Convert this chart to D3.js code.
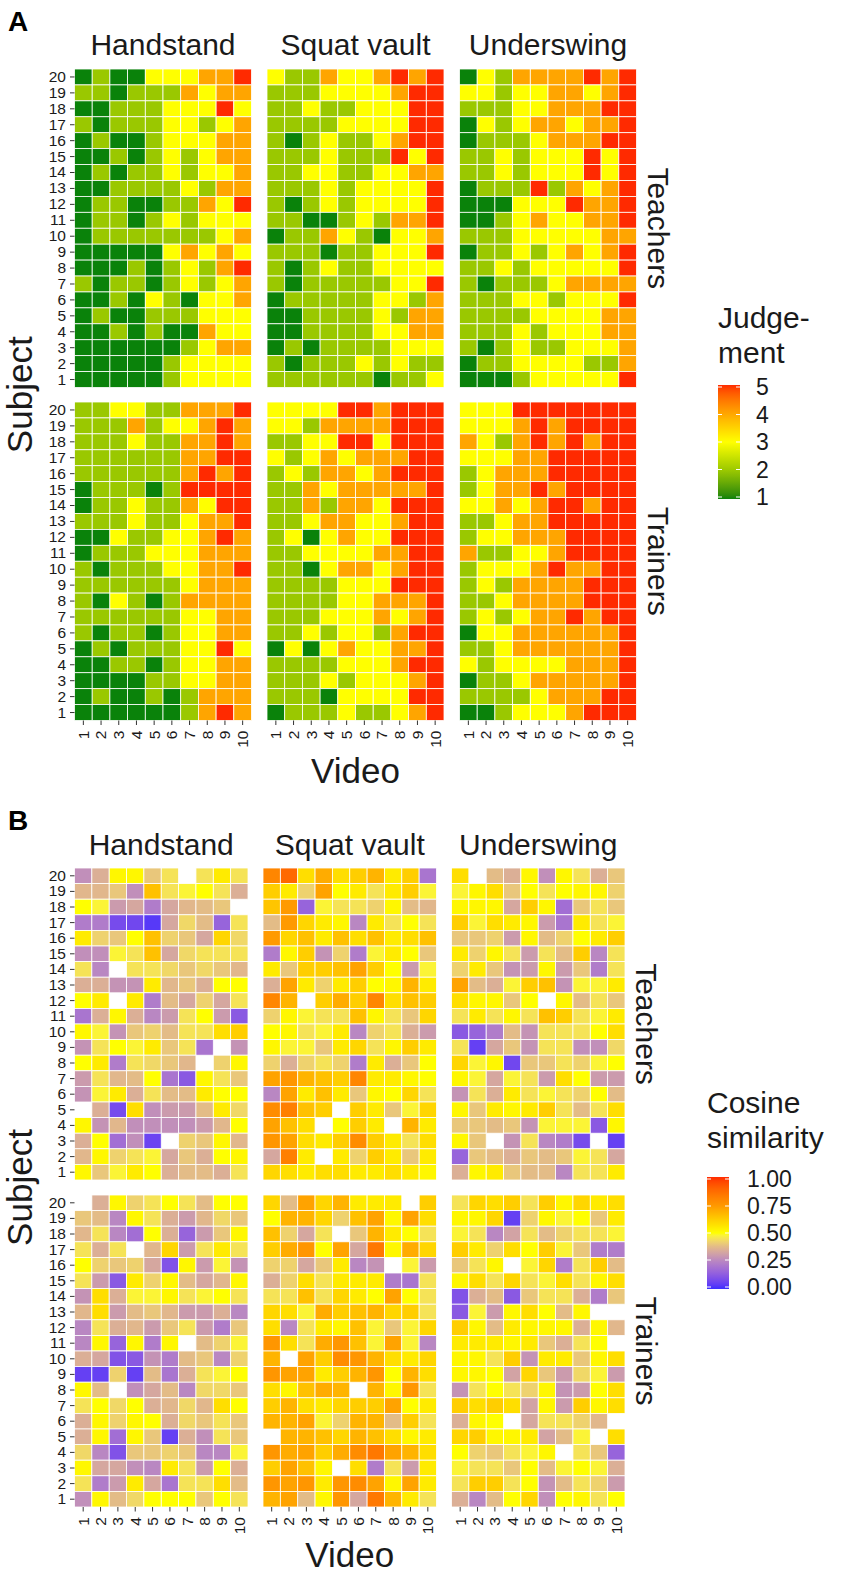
<!DOCTYPE html>
<html><head><meta charset="utf-8">
<script src="https://cdn.jsdelivr.net/npm/d3@7"></script>
<style>html,body{margin:0;padding:0;background:#fff;} svg{display:block;font-family:"Liberation Sans",Arial,sans-serif;}</style>
</head><body><svg id="chart" width="851" height="1575"></svg>
<script>
const NA = null;
const exercises = ["Handstand", "Squat vault", "Underswing"];
const groups = ["Teachers", "Trainers"];
const subjectLabels = ["1","2","3","4","5","6","7","8","9","10","11","12","13","14","15","16","17","18","19","20"];
const videoLabels = ["1","2","3","4","5","6","7","8","9","10"];
const judgeBreaks = [1, 2, 3, 4, 5];
const cosineBreaks = [0, 0.25, 0.5, 0.75, 1];
const cosineBreakLabels = ["0.00", "0.25", "0.50", "0.75", "1.00"];

// Panel A: judgement (1-5). Each array lists subjects 20 (top) down to 1; columns = videos 1..10
const judgeTeachersHandstand = [
 [1,2,1,1,3,3,3,4,4,5],[2,2,1,2,2,2,4,3,4,4],[1,1,2,2,2,3,3,3,5,3],[2,1,2,2,2,3,3,2,3,4],
 [1,2,1,1,2,3,3,3,4,4],[1,1,2,1,2,3,2,3,4,4],[1,2,1,2,2,3,2,3,3,4],[1,1,2,2,2,2,3,2,4,4],
 [1,2,2,1,1,2,2,4,3,5],[1,2,2,1,2,3,2,3,3,3],[1,2,2,2,2,2,2,2,3,4],[1,1,1,1,1,3,4,3,4,3],
 [1,1,1,2,1,2,3,2,4,5],[2,1,2,2,1,2,3,2,3,4],[1,1,2,1,3,2,1,3,3,4],[1,2,1,1,2,2,2,3,3,3],
 [1,1,2,1,2,1,1,4,3,3],[1,1,1,1,1,1,2,3,4,4],[1,1,1,1,1,2,3,3,3,3],[1,1,1,1,1,2,3,3,3,3]];
const judgeTeachersSquat = [
 [3,2,2,4,3,3,4,5,4,5],[2,2,2,3,3,3,3,4,5,5],[2,2,3,2,2,3,3,3,5,5],[2,2,2,2,3,3,3,3,5,5],
 [2,1,2,3,2,2,3,4,5,5],[2,2,2,3,2,2,2,5,3,5],[2,2,3,3,2,2,3,3,4,4],[2,2,2,3,2,3,3,3,3,5],
 [2,1,2,3,2,3,3,3,3,5],[2,2,1,1,2,3,2,4,4,5],[1,2,2,4,3,2,1,3,3,4],[2,2,2,1,2,2,3,3,3,5],
 [2,1,2,3,2,2,3,3,3,3],[2,1,2,2,2,2,2,3,3,5],[1,2,2,2,2,2,3,3,2,4],[1,1,2,2,2,2,3,2,4,4],
 [1,1,2,2,2,2,3,3,4,4],[1,2,1,2,2,2,2,3,3,3],[2,1,2,2,2,3,2,3,2,2],[2,2,2,2,2,2,1,2,2,3]];
const judgeTeachersUnderswing = [
 [1,3,2,4,4,4,4,5,4,5],[3,3,2,3,3,4,4,3,4,5],[2,2,2,3,3,4,4,4,5,5],[1,3,2,3,4,4,3,4,4,5],
 [1,2,2,2,3,4,4,4,5,5],[2,2,3,2,3,3,3,5,3,5],[2,2,3,2,3,3,3,5,3,5],[1,2,2,2,5,2,4,3,4,5],
 [1,1,1,3,3,3,5,4,4,5],[1,1,2,3,4,3,3,4,4,5],[2,2,2,3,3,3,3,3,4,4],[1,2,2,3,2,3,4,3,4,5],
 [2,2,3,2,3,3,3,3,3,5],[2,1,2,2,2,3,4,4,4,4],[2,2,2,3,3,2,3,3,3,5],[2,2,2,2,3,3,3,3,4,4],
 [2,2,2,3,2,3,3,3,4,4],[2,1,2,3,2,2,3,3,3,4],[1,2,2,3,3,3,3,2,2,4],[1,1,1,2,3,3,3,3,3,5]];
const judgeTrainersHandstand = [
 [2,2,3,3,2,2,4,4,4,5],[2,2,2,4,2,3,3,4,5,4],[2,2,2,3,2,2,4,4,5,4],[2,2,2,2,2,2,4,4,5,5],
 [2,2,2,2,2,2,4,5,4,5],[1,2,2,2,1,2,5,5,5,5],[1,2,2,3,2,2,4,3,5,5],[2,2,2,3,2,2,3,4,4,5],
 [1,1,3,2,2,3,3,4,5,4],[1,2,2,2,3,3,3,4,4,4],[2,1,2,2,2,3,3,4,4,5],[2,2,2,2,2,2,3,4,4,4],
 [2,1,3,2,1,2,4,4,4,4],[2,2,2,2,2,2,3,3,4,4],[2,1,2,2,1,2,3,3,4,4],[1,2,1,2,2,2,3,3,5,3],
 [1,1,2,2,1,2,3,3,4,4],[1,1,1,1,2,2,3,3,4,4],[1,2,1,1,2,1,2,4,4,4],[1,1,1,1,1,1,2,4,5,4]];
const judgeTrainersSquat = [
 [3,3,3,3,5,5,4,5,5,5],[3,3,2,4,4,4,4,5,5,5],[2,2,3,3,5,5,3,5,5,5],[3,2,3,4,3,4,4,4,5,5],
 [2,3,2,4,4,3,4,5,5,5],[2,2,4,3,4,4,4,4,4,5],[2,2,4,2,4,4,3,5,5,5],[2,2,3,4,4,3,3,4,5,5],
 [2,3,1,3,4,3,3,5,5,5],[2,2,3,3,3,3,4,4,5,5],[2,2,1,3,4,4,3,4,5,5],[2,2,2,2,3,3,3,5,5,5],
 [2,2,2,2,3,3,4,4,4,5],[2,2,2,3,3,3,4,3,4,5],[2,2,3,2,3,3,2,4,5,5],[1,3,1,3,4,3,3,4,4,5],
 [2,2,2,2,3,3,3,4,5,5],[2,2,2,3,2,3,3,3,4,5],[2,2,2,1,3,3,3,3,5,5],[1,2,2,2,3,2,2,3,4,5]];
const judgeTrainersUnderswing = [
 [3,3,3,5,5,5,5,5,5,5],[3,3,3,4,5,4,5,5,5,5],[4,3,2,4,5,4,5,4,5,5],[3,3,3,4,4,5,5,5,5,5],
 [2,3,4,4,4,5,5,5,5,5],[2,3,4,4,5,4,5,5,5,5],[3,3,4,3,4,5,5,4,5,5],[2,2,3,4,4,5,5,5,5,5],
 [2,3,3,4,4,4,5,5,5,5],[4,2,2,3,3,4,5,5,5,5],[2,3,3,3,4,5,4,4,5,5],[2,3,2,4,4,4,4,5,5,5],
 [2,2,3,4,4,4,4,5,5,5],[2,3,2,3,4,4,5,4,5,5],[1,3,3,4,4,4,4,4,4,5],[2,2,3,4,4,4,4,4,4,5],
 [3,2,3,3,3,3,4,4,4,5],[1,2,2,3,4,4,4,4,4,5],[2,2,2,2,3,4,4,4,5,5],[1,1,2,3,3,3,4,5,5,5]];

// Panel B: cosine similarity (0-1), NA = missing. Subjects 20 (top) down to 1
const cosTeachersHandstand = [
 [.27,.35,.52,.52,.40,.45,NA,.45,.55,.45],[.37,.37,.40,.27,.65,.45,.48,.50,.45,.35],
 [.50,.48,.30,.33,.22,.33,.37,.38,.40,NA],[.22,.22,.08,.07,.03,.33,.43,.38,.15,.45],
 [.55,.42,.40,.50,.65,.42,.40,.33,.60,.43],[.27,.27,.48,.45,.65,.33,.43,.45,.45,.45],
 [.45,.25,NA,.45,.45,.43,.40,.43,.40,.37],[.35,.35,.28,.28,.55,.37,.40,.35,.50,.50],
 [.50,.55,NA,.55,.22,.38,.33,.42,.33,.45],[.20,.35,.52,.35,.25,.30,.45,.50,.30,.12],
 [.52,.48,.28,.40,.42,.38,.45,.45,.58,.62],[.28,.45,.50,.48,.55,.40,.45,.20,NA,.28],
 [.50,.55,.22,.45,.43,.40,.37,NA,.42,.52],[.30,.45,.37,.38,.50,.20,.12,.52,.45,.40],
 [.28,.48,.55,.35,.45,.38,.38,.55,.50,.50],[NA,.35,.08,.58,.27,.30,.30,.38,.55,.43],
 [.52,.28,.37,.27,.27,.27,.27,.30,.37,.50],[.35,.50,.18,.27,.06,NA,.42,.40,.52,.37],
 [.37,.52,.42,.45,.48,.33,.40,.35,.50,.52],[.52,.40,.48,.55,.50,.35,.38,.38,.35,.45]];
const cosTeachersSquat = [
 [.80,.88,.58,.70,.58,.62,.68,.55,.62,.20],[.62,.55,.42,.72,.50,.55,.45,.55,.62,.48],
 [.64,.74,.15,.48,.45,.45,.42,.52,.38,.37],[.38,.74,.60,.55,.52,.25,.55,.45,.50,.45],
 [.74,.60,.65,.55,.65,.58,.65,.55,.58,.65],[.22,.52,.62,.28,.42,.22,.48,.55,.50,.40],
 [.55,.40,.62,.62,.65,.72,.62,.50,.30,.48],[.35,.72,.55,.42,.55,.62,.50,.52,.68,.55],
 [.80,.68,NA,.62,.70,.62,.80,.58,.65,.62],[.42,.52,.48,.45,.45,.65,.52,.45,.40,.60],
 [.50,.52,.45,.48,.55,.25,.42,.45,.35,.30],[.52,.48,.48,.40,.55,.60,.45,.52,.62,.55],
 [.42,.35,.42,.45,.42,.22,.55,.35,.40,.50],[.72,.75,.68,.65,.62,.80,.55,.55,.52,.50],
 [.25,.72,.55,.65,.55,.40,.52,.50,.60,.45],[.78,.82,.65,.62,NA,.62,.55,.40,.48,.60],
 [.72,.65,.58,NA,.50,.62,.55,NA,.68,.55],[.75,.72,.58,.55,.62,.78,.62,.55,.45,.58],
 [.33,.82,.55,NA,.55,.42,.62,.55,.40,.55],[.60,.58,.55,.58,.58,.55,.55,.58,.55,.52]];
const cosTeachersUnderswing = [
 [.58,NA,.38,.35,.52,.27,.52,.45,.35,.40],[.48,.52,.58,.40,.50,.45,.50,.52,.52,.42],
 [.52,.52,.52,.33,.62,.52,.18,.40,.45,.40],[.62,.48,.58,.55,.52,.30,.20,.55,.45,.48],
 [.40,.40,.42,.30,.52,.38,.42,.50,.55,.62],[.55,.42,.52,.45,.30,.45,.38,.62,.25,.45],
 [.42,.55,.40,.28,.30,.52,.30,.40,.22,.45],[.72,.38,.35,.48,.62,.65,.28,.48,.48,.55],
 [.58,.52,.52,.40,.50,NA,.52,.38,.45,.40],[.45,.55,.45,.52,.45,.65,.62,.45,.48,.55],
 [.12,.15,.22,.38,.28,.45,.45,.45,.50,.58],[.45,.05,.33,.40,.28,.45,.45,.27,.27,.43],
 [.60,.48,.52,.07,.40,.40,.45,.42,.48,.50],[.52,.48,.33,.48,.45,.30,.58,.50,.30,.30],
 [.28,.45,.35,.55,.45,.48,.45,.42,.50,.38],[.52,.40,.55,.52,.55,.62,.45,.38,.45,.58],
 [.40,.40,.38,.40,.28,.48,.48,.48,.12,.52],[.52,.40,NA,.28,.45,.25,.22,.08,NA,.05],
 [.15,.40,.38,.35,.40,.38,.40,.48,.45,.33],[.35,.52,.55,.40,.38,.38,.25,.45,.45,.55]];
const cosTrainersHandstand = [
 [NA,.35,.52,.42,.45,.50,.45,.38,.50,.50],[.40,.38,.25,.52,.45,.35,.30,.37,.43,.40],
 [.37,.45,.25,.18,.50,.35,.15,.30,.40,.52],[.45,.35,.45,NA,.37,.60,.30,.45,.55,.45],
 [.50,.42,.40,.42,.33,.10,.52,.30,.48,.28],[.45,.30,.12,.55,.42,.52,.38,.33,.37,.52],
 [.28,.58,.35,.48,.48,.52,.45,.48,.50,.45],[.37,.58,.30,.38,.40,.37,.30,.30,.35,.25],
 [.25,.45,.35,.37,.30,.40,.45,.30,.22,.40],[.25,.52,.15,.52,.22,.52,NA,.38,.42,.48],
 [.35,.33,.10,.12,.28,.22,.38,.40,.25,.42],[.05,.05,.42,.05,.38,.20,.35,.45,.48,.50],
 [.52,.38,NA,.27,.33,.38,.25,.43,.43,.40],[.45,.50,.43,.50,.35,.37,.43,.37,.58,.50],
 [.35,.52,.42,.52,.50,.35,.43,.40,.45,.40],[.35,.52,.18,.52,.40,.05,.35,.27,.45,.40],
 [.43,.25,.10,.40,.40,.42,.40,.25,.25,.48],[.52,.33,.33,.27,.25,.55,.45,.30,.50,.35],
 [.45,.22,.30,.55,.33,.20,.45,.45,.58,.38],[.27,.52,.38,.43,.50,.50,.50,.40,.50,.45]];
const cosTrainersSquat = [
 [.60,.38,.72,.60,.68,.55,.55,.55,NA,.62],[.50,.68,.68,.60,.42,.65,.72,.52,.72,.58],
 [.65,.42,.33,.45,NA,.40,.68,.55,.50,.45],[.62,.70,.75,.50,.72,.33,.84,.52,.70,.60],
 [.42,.42,.33,.40,.55,.25,.28,NA,.48,.30],[.35,.42,.58,.45,.55,.55,.55,.22,.20,.45],
 [.45,.45,.65,.45,.60,.55,.50,.72,.50,.45],[.60,.58,.48,.70,.62,.65,.68,.60,.62,.45],
 [.58,.25,.45,.55,.52,.65,.48,.40,.48,.60],[.75,.58,.45,.70,.75,.65,.48,.72,.48,.25],
 [.68,NA,.72,.62,.78,.75,.68,.58,.55,.60],[.75,.72,.72,.55,.62,.68,.75,.50,.68,.58],
 [.58,.52,.65,.70,.68,NA,.68,.52,.75,.45],[.62,.68,.58,.55,.60,.62,.62,.72,.50,.55],
 [.68,.68,.72,.48,.42,.68,.68,.38,.62,.45],[NA,.68,.68,.65,.60,.68,.65,.58,.52,.55],
 [.75,.70,.72,.62,.70,.78,.84,.72,.68,.58],[.62,.72,.65,.52,NA,.58,.22,.45,.30,.55],
 [.75,.72,.75,.55,.75,.78,.72,.52,.72,.55],[.68,.72,.38,.52,.75,.33,.84,.68,.55,.45]];
const cosTrainersUnderswing = [
 [.45,.60,.58,.62,.45,.62,.52,.60,.55,.58],[.52,.52,.60,.05,.42,.52,.48,.50,.40,.55],
 [.48,.45,.25,.32,.45,.38,.42,.45,.45,.48],[.62,.55,.42,.58,.50,.62,.48,.40,.22,.22],
 [.40,.45,.52,NA,.48,.60,.22,.45,.62,.38],[.52,.58,.45,.60,.45,.48,.58,.45,.52,.58],
 [.10,.35,.38,.12,.40,.45,.45,.35,.22,.40],[.12,.48,.30,.52,.58,.50,.38,.52,NA,NA],
 [.62,.52,.38,.55,.52,.52,.52,.35,.52,.37],[.55,.55,.55,.52,.55,.40,.35,.45,.50,NA],
 [.52,.52,.45,.62,.28,.55,.55,.40,.52,.58],[.52,.52,.50,.32,.60,.40,.30,.43,.48,.30],
 [.28,.45,.50,.45,.42,.52,.28,.30,.50,.58],[.62,.58,.62,.58,.32,.52,.30,.62,.52,.58],
 [.35,.52,.50,NA,.33,.45,.45,.42,.37,NA],[.60,.62,.52,.52,.55,.32,.38,.48,NA,.58],
 [.50,.42,.40,.45,.48,.52,NA,.45,.40,.15],[.48,.45,.45,.40,.50,.38,.48,.50,.48,.35],
 [.45,.62,.62,.45,.50,.28,.38,.45,.42,.30],[.35,.25,.38,.50,.60,.27,.50,.52,.45,.50]];

const judgeColor = d3.scaleLinear().domain([1,2,3,4,5])
  .range(["#0a820a","#9ac800","#ffff00","#ffa500","#ff2a00"]).interpolate(d3.interpolateLab);
const cosColor = d3.scaleLinear().domain([0,0.25,0.375,0.5,0.75,1])
  .range(["#3a2eff","#b987c2","#e2b98a","#ffff00","#ff9600","#ff2a00"]).interpolate(d3.interpolateLab);

const svg = d3.select("#chart");
svg.append("rect").attr("width",851).attr("height",1575).attr("fill","#fff");
const TXT = "#1a1a1a";

function drawPanel(o) {
  const g = svg.append("g");
  g.append("text").attr("x", 8).attr("y", o.tagY).text(o.tag)
    .style("font-weight","bold").style("font-size","28px").attr("fill","#000");
  const subjDesc = subjectLabels.slice().reverse();
  exercises.forEach((ex, ci) => {
    const x = d3.scaleBand().domain(videoLabels).range([o.facetX[ci], o.facetX[ci] + o.facetW]);
    g.append("text").attr("x", o.facetX[ci] + o.facetW/2).attr("y", o.stripY)
      .attr("text-anchor","middle").style("font-size","30px").attr("fill",TXT).text(ex);
    groups.forEach((gr, ri) => {
      const y = d3.scaleBand().domain(subjDesc).range([o.rowY[ri], o.rowY[ri] + o.rowH]);
      const rows = o.data[gr][ci];
      const cells = [];
      rows.forEach((row, i) => row.forEach((v, j) => {
        if (v !== null) cells.push({s: subjDesc[i], vid: videoLabels[j], val: v});
      }));
      g.append("g").selectAll("rect").data(cells).join("rect")
        .attr("x", d => x(d.vid)).attr("y", d => y(d.s))
        .attr("width", x.bandwidth()).attr("height", y.bandwidth())
        .attr("fill", d => o.color(d.val))
        .attr("stroke","#ffffff").attr("stroke-width",0.8);
      if (ci === 0) {
        const ay = g.append("g").attr("transform", `translate(${o.facetX[0]},0)`)
          .call(d3.axisLeft(y).tickSize(4.5).tickPadding(4));
        ay.select(".domain").remove();
        ay.selectAll(".tick line").attr("stroke","#333");
        ay.selectAll(".tick text").style("font-size","15.5px").attr("fill",TXT)
          .style("font-family",'"Liberation Sans",Arial,sans-serif');
      }
      if (ri === 1) {
        const ax = g.append("g").attr("transform", `translate(0,${o.rowY[1] + o.rowH})`)
          .call(d3.axisBottom(x).tickSize(4.5));
        ax.select(".domain").remove();
        ax.selectAll(".tick line").attr("stroke","#333");
        ax.selectAll(".tick text").style("font-size","15.5px").attr("fill",TXT)
          .style("font-family",'"Liberation Sans",Arial,sans-serif')
          .attr("transform","rotate(-90)").attr("text-anchor","end")
          .attr("x", -10).attr("y", 0).attr("dy","0.35em");
      }
      if (ci === 2) {
        const cy = o.rowY[ri] + o.rowH/2;
        g.append("text").attr("transform", `translate(${o.stripRX},${cy}) rotate(90)`)
          .attr("text-anchor","middle").attr("dy","0.35em")
          .style("font-size","30px").attr("fill",TXT).text(gr);
      }
    });
  });
  // axis titles
  const right = o.facetX[2] + o.facetW;
  g.append("text").attr("x", (o.facetX[0] + right)/2).attr("y", o.videoY)
    .attr("text-anchor","middle").style("font-size","35px").attr("fill",TXT).text("Video");
  const midY = (o.rowY[0] + o.rowY[1] + o.rowH)/2;
  g.append("text").attr("transform", `translate(32,${midY}) rotate(-90)`)
    .attr("text-anchor","middle").style("font-size","35px").attr("fill",TXT).text("Subject");
  // legend
  const L = o.legend;
  L.title.forEach((t, i) => g.append("text").attr("x", L.x).attr("y", L.titleY + i*L.lineH)
    .style("font-size","30px").attr("fill",TXT).text(t));
  const gid = "grad" + o.tag;
  const grad = svg.append("defs").append("linearGradient").attr("id", gid)
    .attr("x1",0).attr("y1",1).attr("x2",0).attr("y2",0);
  const [d0, d1] = L.domain;
  d3.range(0, 1.0001, 0.02).forEach(t => grad.append("stop")
    .attr("offset", t).attr("stop-color", o.color(d0 + t*(d1 - d0))));
  g.append("rect").attr("x", L.x).attr("y", L.barTop).attr("width", 22)
    .attr("height", L.barBottom - L.barTop).attr("fill", `url(#${gid})`);
  const ly = d3.scaleLinear().domain(L.domain).range([L.barBottom - 2, L.barTop + 2]);
  L.breaks.forEach((b, i) => {
    g.append("line").attr("x1", L.x).attr("x2", L.x + 4).attr("y1", ly(b)).attr("y2", ly(b))
      .attr("stroke","#fff").attr("stroke-width",1);
    g.append("line").attr("x1", L.x + 18).attr("x2", L.x + 22).attr("y1", ly(b)).attr("y2", ly(b))
      .attr("stroke","#fff").attr("stroke-width",1);
    g.append("text").attr("x", L.x + L.labelDx).attr("y", ly(b)).attr("dy","0.36em")
      .style("font-size","23px").attr("fill",TXT).text(L.labels[i]);
  });
}

drawPanel({
  tag: "A", tagY: 31, stripY: 55,
  facetX: [74.5, 267, 459.5], facetW: 177,
  rowY: [69, 402], rowH: 318.5,
  stripRX: 658, videoY: 783,
  color: judgeColor,
  data: {Teachers: [judgeTeachersHandstand, judgeTeachersSquat, judgeTeachersUnderswing],
         Trainers: [judgeTrainersHandstand, judgeTrainersSquat, judgeTrainersUnderswing]},
  legend: {x: 718, title: ["Judge-", "ment"], titleY: 328, lineH: 34.5,
           barTop: 385, barBottom: 499, domain: [1, 5], breaks: judgeBreaks,
           labels: judgeBreaks.map(String), labelDx: 38}
});

drawPanel({
  tag: "B", tagY: 830, stripY: 855,
  facetX: [74.5, 263, 451.5], facetW: 173.5,
  rowY: [868, 1195], rowH: 312,
  stripRX: 646, videoY: 1567,
  color: cosColor,
  data: {Teachers: [cosTeachersHandstand, cosTeachersSquat, cosTeachersUnderswing],
         Trainers: [cosTrainersHandstand, cosTrainersSquat, cosTrainersUnderswing]},
  legend: {x: 707, title: ["Cosine", "similarity"], titleY: 1113, lineH: 34.5,
           barTop: 1177, barBottom: 1289, domain: [0, 1], breaks: cosineBreaks,
           labels: cosineBreakLabels, labelDx: 40}
});
</script></body></html>
